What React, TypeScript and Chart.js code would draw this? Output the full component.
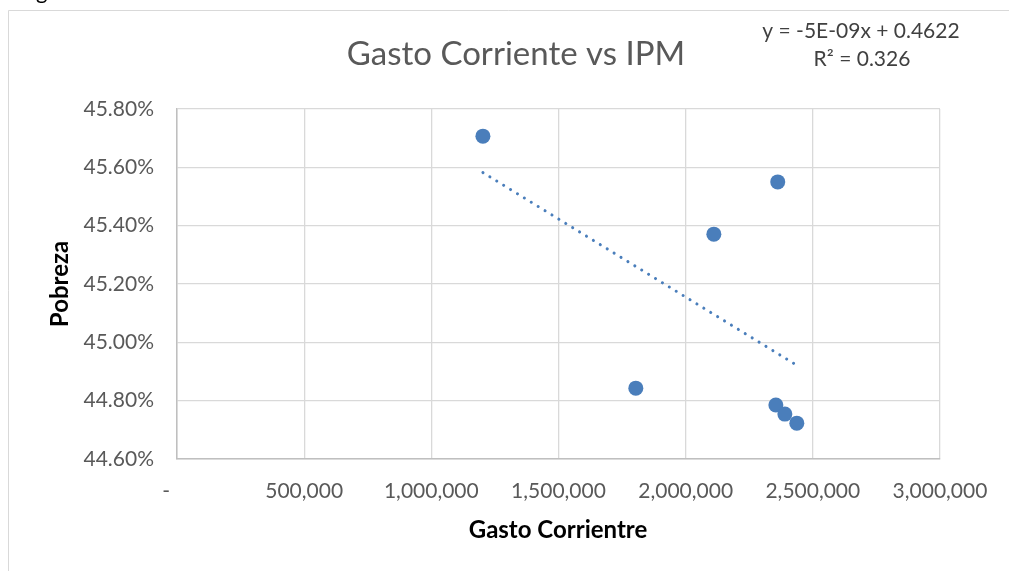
import React, { useEffect, useRef } from 'react';
import { Chart, registerables } from 'chart.js';

Chart.register(...registerables);

const gastoCorriente = [1202800, 2362000, 2110800, 1804000, 2354600, 2390000, 2437000];
const pobreza = [0.45707, 0.4555, 0.45371, 0.44843, 0.44785, 0.44754, 0.44723];
const chartTitle = 'Gasto Corriente vs IPM';
const xAxisTitle = 'Gasto Corrientre';
const yAxisTitle = 'Pobreza';
const trendEquation = 'y = -5E-09x + 0.4622';
const trendR2 = 'R² = 0.326';
const xTickValues = [0, 500000, 1000000, 1500000, 2000000, 2500000, 3000000];
const yTickValues = [0.446, 0.448, 0.45, 0.452, 0.454, 0.456, 0.458];

const BLUE = '#4a7ebb';
const FONT = 'Lato, "Open Sans", sans-serif';

function regressionLine(xs: number[], ys: number[]) {
  const n = xs.length;
  const mx = xs.reduce((a, b) => a + b, 0) / n;
  const my = ys.reduce((a, b) => a + b, 0) / n;
  let sxy = 0, sxx = 0;
  for (let i = 0; i < n; i++) {
    sxy += (xs[i] - mx) * (ys[i] - my);
    sxx += (xs[i] - mx) ** 2;
  }
  const slope = sxy / sxx;
  const icpt = my - slope * mx;
  const x0 = Math.min(...xs);
  const x1 = Math.max(...xs);
  return [
    { x: x0, y: icpt + slope * x0 },
    { x: x1, y: icpt + slope * x1 },
  ];
}

const decorPlugin = {
  id: 'decor',
  beforeDraw(chart: any) {
    const ctx = chart.ctx;
    ctx.save();
    ctx.fillStyle = '#ffffff';
    ctx.fillRect(0, 0, chart.width, chart.height);
    ctx.strokeStyle = '#d9d9d9';
    ctx.lineWidth = 1;
    ctx.beginPath();
    ctx.moveTo(8.5, chart.height);
    ctx.lineTo(8.5, 10.5);
    ctx.lineTo(chart.width, 10.5);
    ctx.stroke();
    ctx.restore();
  },
  afterDraw(chart: any) {
    const ctx = chart.ctx;
    ctx.save();
    // partial text above the chart frame
    ctx.fillStyle = '#000000';
    ctx.font = `22px ${FONT}`;
    ctx.textAlign = 'left';
    ctx.textBaseline = 'alphabetic';
    ctx.fillText('g', 36, -1);

    ctx.fillStyle = '#595959';
    ctx.font = `33px ${FONT}`;
    ctx.textAlign = 'center';
    ctx.fillText(chartTitle, 516, 65);

    ctx.fillStyle = '#404040';
    ctx.font = `21px ${FONT}`;
    ctx.fillText(trendEquation, 861, 38);
    ctx.fillText(trendR2, 862, 66);

    ctx.fillStyle = '#000000';
    ctx.font = `bold 24px ${FONT}`;
    ctx.textBaseline = 'middle';
    ctx.fillText(xAxisTitle, 558, 530);
    ctx.translate(60, 284);
    ctx.rotate(-Math.PI / 2);
    ctx.fillText(yAxisTitle, 0, 0);
    ctx.restore();
  },
};

export default function App() {
  const ref = useRef<HTMLCanvasElement>(null);
  useEffect(() => {
    if (!ref.current) return;
    const points = gastoCorriente.map((x, i) => ({ x, y: pobreza[i] }));
    const trend = regressionLine(gastoCorriente, pobreza);
    const chart = new Chart(ref.current, {
      type: 'scatter',
      data: {
        datasets: [
          {
            label: 'Pobreza',
            data: points,
            backgroundColor: BLUE,
            borderColor: BLUE,
            borderWidth: 0,
            pointRadius: 7.5,
            order: 2,
          },
          {
            type: 'line',
            label: 'Tendencia',
            data: trend,
            borderColor: BLUE,
            borderWidth: 3,
            borderDash: [0.1, 8],
            borderCapStyle: 'round',
            pointRadius: 0,
            fill: false,
            order: 1,
          } as any,
        ],
      },
      options: {
        animation: false,
        responsive: false,
        devicePixelRatio: 1,
        layout: { padding: { left: 0, top: 109, right: 69, bottom: 0 } },
        plugins: {
          legend: { display: false },
          title: { display: false },
          tooltip: { enabled: false },
        },
        scales: {
          x: {
            type: 'linear',
            min: 0,
            max: 3000000,
            afterFit: (s: any) => { s.height = 112; },
            afterBuildTicks: (s: any) => { s.ticks = xTickValues.map((v) => ({ value: v })); },
            grid: { color: '#d9d9d9', lineWidth: 1.3, drawTicks: false },
            border: { color: '#bfbfbf', width: 1.5 },
            ticks: {
              padding: 20,
              color: '#595959',
              font: { family: FONT, size: 21 },
              maxRotation: 0,
              autoSkip: false,
              callback: (v: any) => (Number(v) === 0 ? '-    ' : Number(v).toLocaleString('en-US')),
            },
          },
          y: {
            type: 'linear',
            min: 0.446,
            max: 0.458,
            afterFit: (s: any) => { s.width = 177; },
            afterBuildTicks: (s: any) => { s.ticks = yTickValues.map((v) => ({ value: v })); },
            grid: { color: '#d9d9d9', lineWidth: 1.3, drawTicks: false },
            border: { color: '#bfbfbf', width: 1.5 },
            ticks: {
              padding: 23,
              color: '#595959',
              font: { family: FONT, size: 21 },
              autoSkip: false,
              callback: (v: any) => (Number(v) * 100).toFixed(2) + '%',
            },
          },
        },
      },
      plugins: [decorPlugin],
    });
    return () => chart.destroy();
  }, []);
  return (
    <canvas
      ref={ref}
      width={1009}
      height={571}
      style={{ position: 'absolute', left: 0, top: 0, display: 'block', width: 1009, height: 571 }}
    />
  );
}
